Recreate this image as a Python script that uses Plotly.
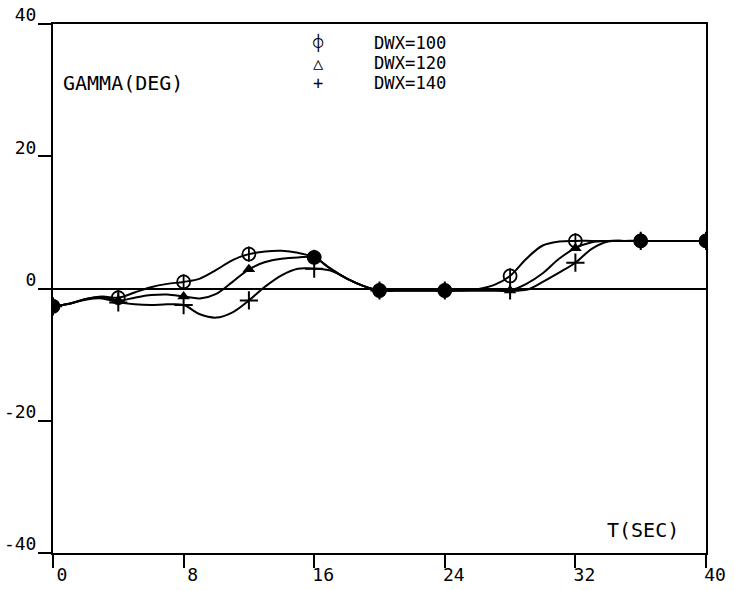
import plotly.graph_objects as go

t = list(range(0, 41))

gamma_dwx100 = [-2.7, -2.3, -1.6, -1.2, -1.4, -0.6, 0.2, 0.7, 1.0, 1.5,
                2.8, 4.3, 5.2, 5.6, 5.7, 5.4, 4.7, 3.0, 1.5, 0.4,
                -0.3, -0.3, -0.3, -0.3, -0.3, -0.3, -0.1, 0.5, 1.9, 4.5,
                6.5, 7.1, 7.2, 7.2, 7.2, 7.2, 7.2, 7.2, 7.2, 7.2, 7.2]

gamma_dwx120 = [-2.7, -2.3, -1.6, -1.3, -1.8, -1.4, -1.0, -0.9, -1.2, -1.5,
                -0.8, 1.0, 2.9, 4.0, 4.5, 4.7, 4.7, 3.0, 1.5, 0.4,
                -0.3, -0.3, -0.3, -0.3, -0.3, -0.3, -0.3, -0.3, -0.3, 0.7,
                2.3, 4.5, 6.1, 7.0, 7.2, 7.2, 7.2, 7.2, 7.2, 7.2, 7.2]

gamma_dwx140 = [-2.7, -2.3, -1.7, -1.5, -2.1, -2.4, -2.5, -2.4, -2.5, -3.9,
                -4.4, -3.6, -1.8, 0.3, 2.0, 3.0, 3.0, 2.7, 1.5, 0.4,
                -0.3, -0.3, -0.3, -0.3, -0.3, -0.3, -0.3, -0.3, -0.3, -0.2,
                1.0, 2.4, 3.9, 6.0, 7.1, 7.2, 7.2, 7.2, 7.2, 7.2, 7.2]

marker_step = 4
x_ticks = [0, 8, 16, 24, 32, 40]
y_ticks = [-40, -20, 0, 20, 40]
y_tick_text = ["-40", "-20", "0", "20", "40"]
legend_labels = ["DWX=100", "DWX=120", "DWX=140"]
legend_glyphs = ["\u233d", "\u25b3", "+"]

FONT = "DejaVu Sans Mono"
fig = go.Figure()

series = [gamma_dwx100, gamma_dwx120, gamma_dwx140]
for s in series:
    fig.add_trace(go.Scatter(x=t, y=s, mode="lines",
                             line=dict(color="black", width=2, shape="spline", smoothing=1.0),
                             showlegend=False, hoverinfo="skip"))

tm = t[::marker_step]
m100 = gamma_dwx100[::marker_step]
m120 = gamma_dwx120[::marker_step]
m140 = gamma_dwx140[::marker_step]

fig.add_trace(go.Scatter(x=tm, y=m140, mode="markers",
                         marker=dict(symbol="cross-thin", size=13, line=dict(color="black", width=2)),
                         showlegend=False))
fig.add_trace(go.Scatter(x=tm, y=m120, mode="markers",
                         marker=dict(symbol="triangle-up", size=11, color="black"),
                         showlegend=False))
fig.add_trace(go.Scatter(x=tm, y=m100, mode="markers",
                         marker=dict(symbol="circle-open", size=13, color="black", line=dict(width=1.8)),
                         showlegend=False))
fig.add_trace(go.Scatter(x=tm, y=m100, mode="markers",
                         marker=dict(symbol="line-ns", size=11, line=dict(color="black", width=1.8)),
                         showlegend=False))

# coinciding markers merge into solid dots
common_t = [x for x, a, b in zip(tm, m100, m120) if a == b]
common_v = [a for a, b in zip(m100, m120) if a == b]
fig.add_trace(go.Scatter(x=common_t, y=common_v, mode="markers",
                         marker=dict(symbol="circle", size=14, color="black"),
                         showlegend=False))

annotations = [
    dict(text="GAMMA(DEG)", x=0.013, y=0.888, xref="paper", yref="paper",
         xanchor="left", yanchor="middle", showarrow=False,
         font=dict(family=FONT, size=20, color="black")),
    dict(text="T(SEC)", x=0.845, y=0.044, xref="paper", yref="paper",
         xanchor="left", yanchor="middle", showarrow=False,
         font=dict(family=FONT, size=20, color="black")),
]
legend_y = [0.964, 0.926, 0.888]
for glyph, label, yy in zip(legend_glyphs, legend_labels, legend_y):
    annotations.append(dict(text=glyph, x=0.406, y=yy, xref="paper", yref="paper",
                            xanchor="center", yanchor="middle", showarrow=False,
                            font=dict(family=FONT, size=17, color="black")))
    annotations.append(dict(text=label, x=0.488, y=yy, xref="paper", yref="paper",
                            xanchor="left", yanchor="middle", showarrow=False,
                            font=dict(family=FONT, size=17.2, color="black")))

fig.update_layout(
    width=734, height=590,
    margin=dict(l=53, r=28, t=24, b=37, autoexpand=False),
    paper_bgcolor="white", plot_bgcolor="white",
    annotations=annotations,
    showlegend=False,
    xaxis=dict(range=[0, 40], tickvals=x_ticks, ticks="outside", ticklen=13,
               tickwidth=2, tickcolor="black", showgrid=False, zeroline=False,
               showline=True, linecolor="black", linewidth=2, mirror=True,
               ticklabelshift=9, ticklabelstandoff=-9, automargin=False,
               tickfont=dict(family=FONT, size=18, color="black")),
    yaxis=dict(range=[-40, 40], tickvals=y_ticks, ticktext=y_tick_text,
               ticks="outside", ticklen=13, tickwidth=2, tickcolor="black",
               showgrid=False, zeroline=True, zerolinecolor="black", zerolinewidth=2,
               showline=True, linecolor="black", linewidth=2, mirror=True,
               ticklabelshift=-9, ticklabelstandoff=-2, automargin=False,
               tickfont=dict(family=FONT, size=18, color="black")),
)

fig.write_html("out.html")
